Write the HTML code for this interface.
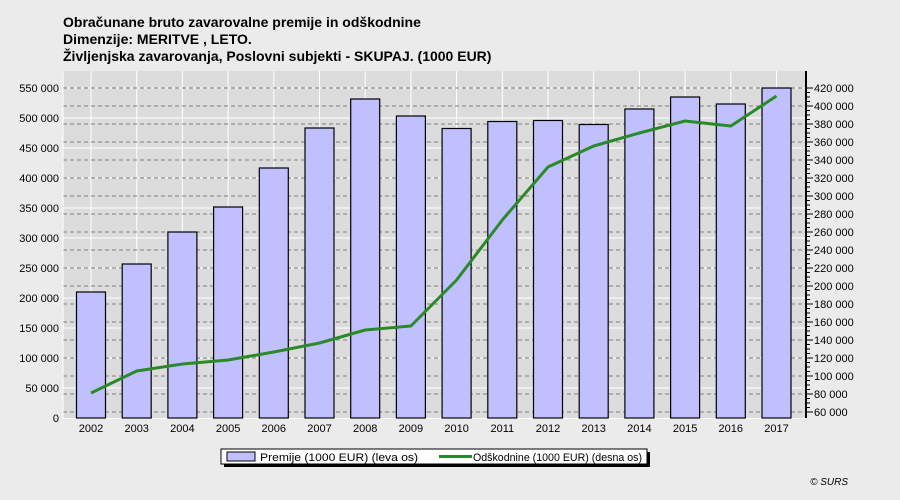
<!DOCTYPE html>
<html><head><meta charset="utf-8"><style>
html,body{margin:0;padding:0;background:#ebebeb;}
svg{display:block;font-family:"Liberation Sans",sans-serif;}
</style></head><body>
<svg width="900" height="500" viewBox="0 0 900 500">
<rect width="900" height="500" fill="#ebebeb"/>
<text x="63" y="27" font-size="14" font-weight="bold">Obračunane bruto zavarovalne premije in odškodnine</text>
<text x="63" y="44" font-size="14" font-weight="bold">Dimenzije: MERITVE , LETO.</text>
<text x="63" y="61" font-size="14" font-weight="bold">Življenjska zavarovanja, Poslovni subjekti - SKUPAJ. (1000 EUR)</text>
<rect x="63" y="71" width="743" height="347" fill="#dcdcdc"/>
<g id="g"></g>
<line x1="63" y1="71" x2="63" y2="418" stroke="#fff" stroke-width="1"/>
<line x1="63" y1="418.5" x2="806" y2="418.5" stroke="#fff" stroke-width="1"/>
<line x1="806" y1="71" x2="806" y2="418" stroke="#000" stroke-width="2"/>
<g id="b"></g>
<g id="t" font-size="11"></g>
<rect x="224" y="452" width="426" height="15" fill="#000"/>
<rect x="221" y="449" width="426" height="15" fill="#fff" stroke="#000"/>
<rect x="227" y="452" width="28" height="9" fill="#c0c0ff" stroke="#000"/>
<text x="260" y="461" font-size="11" textLength="158" lengthAdjust="spacingAndGlyphs">Premije (1000 EUR) (leva os)</text>
<line x1="439" y1="456.5" x2="472" y2="456.5" stroke="#2a8a2a" stroke-width="3"/>
<text x="473" y="461" font-size="11" textLength="169" lengthAdjust="spacingAndGlyphs">Odškodnine (1000 EUR) (desna os)</text>
<text x="848" y="485" font-size="10" font-style="italic" text-anchor="end">© SURS</text>
</svg>
<script>
var NS="http://www.w3.org/2000/svg";
function el(p,n,a,txt){var e=document.createElementNS(NS,n);for(var k in a)e.setAttribute(k,a[k]);if(txt!=null)e.textContent=txt;document.getElementById(p).appendChild(e);return e;}
var cx=function(i){return 91+45.7*i;};
for(var i=0;i<16;i++)el("g","line",{x1:cx(i),x2:cx(i),y1:71,y2:418,stroke:"#fff"});
for(var v=50000;v<=550000;v+=50000){var y=418-v*0.0006;el("g","line",{x1:63,x2:806,y1:y,y2:y,stroke:"#fff"});}
for(var r=60000;r<=420000;r+=20000){var y=412-(r-60000)*0.0009;el("g","line",{x1:63,x2:806,y1:y,y2:y,stroke:"#808080","stroke-dasharray":"4,3"});}
var tops=[292,264,232,207,168,128,99,116,128.5,121.5,120.5,124.5,109,97,104,88];
var ly=[393,371,364,360,352,343,330,326,280,220,167,146,133,121,126,96];
for(var i=0;i<16;i++){el("b","rect",{x:cx(i)-14.5,y:tops[i],width:29,height:418-tops[i],fill:"#c0c0ff",stroke:"#000","stroke-width":1.2});
el("t","text",{x:cx(i),y:432,"text-anchor":"middle"},String(2002+i));}
var pts=ly.map(function(y,i){return cx(i)+","+y;}).join(" ");
el("b","polyline",{points:pts,fill:"none",stroke:"#2a8a2a","stroke-width":3,"stroke-linejoin":"round"});
function fmt(v){var s=String(v);return s.length>3?s.slice(0,-3)+" "+s.slice(-3):s;}
for(var v=0;v<=550000;v+=50000){var y=418-v*0.0006;el("t","text",{x:59,y:y+4,"text-anchor":"end"},fmt(v));}
for(var r=60000;r<=420000;r+=5000){var y=412-(r-60000)*0.0009;var maj=r%20000==0;el("t","line",{x1:806,x2:maj?813:810,y1:y,y2:y,stroke:"#000"});
if(maj)el("t","text",{x:814,y:y+4},fmt(r));}
</script>
</body></html>
